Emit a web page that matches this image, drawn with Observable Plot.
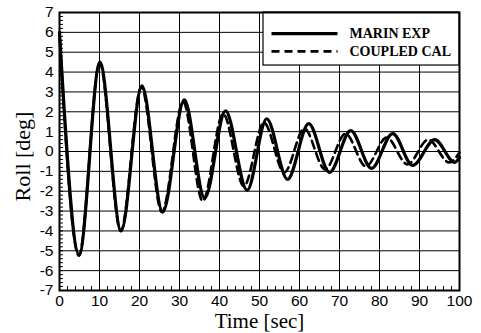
<!DOCTYPE html>
<html><head><meta charset="utf-8">
<script src="https://cdn.jsdelivr.net/npm/d3@7"></script>
<script src="https://cdn.jsdelivr.net/npm/@observablehq/plot@0.6"></script>
<style>
html,body{margin:0;padding:0;background:#fff;}
#chart svg{display:block;}
</style>
</head><body><div id="chart"></div>
<script>
// MARIN EXP (solid) – extrema
const expTime = [0, 4.9, 10.1, 15.4, 20.6, 25.8, 31.2, 36.3, 41.5, 46.9, 51.8, 57.0, 62.3, 67.5, 72.8, 78.0, 83.3, 88.3, 93.8, 98.8, 100];
const expRoll = [6.0, -5.2, 4.5, -4.0, 3.3, -3.05, 2.6, -2.35, 2.05, -1.95, 1.65, -1.4, 1.4, -1.05, 1.05, -0.85, 0.9, -0.7, 0.6, -0.55, -0.3];
// COUPLED CAL (dashed)
const calTime = [0, 4.85, 10.05, 15.3, 20.45, 25.6, 30.9, 35.8, 40.9, 46.1, 51.1, 56.2, 61.2, 66.4, 71.5, 76.6, 81.8, 87.0, 92.2, 97.4, 100];
const calRoll = [5.9, -5.25, 4.45, -4.0, 3.25, -3.05, 2.5, -2.5, 1.9, -1.75, 1.45, -1.05, 1.15, -0.9, 0.9, -0.75, 0.7, -0.65, 0.6, -0.55, -0.05];

const seriesNames = ["MARIN EXP", "COUPLED CAL"];
const xTicks = [0, 10, 20, 30, 40, 50, 60, 70, 80, 90, 100];
const yTicks = [-7, -6, -5, -4, -3, -2, -1, 0, 1, 2, 3, 4, 5, 6, 7];
const xMinor = d3.range(0, 100.001, 2);
const yMinor = d3.range(-7, 7.001, 0.2);

const expData = expTime.map((t, i) => ({t, v: expRoll[i]}));
const calData = calTime.map((t, i) => ({t, v: calRoll[i]}));

// legend layout (in data space)
const lg = {x1: 51, x2: 100, y1: 7, y2: 4.33, lx1: 53, lx2: 69.5, tx: 72.5, ys: [5.94, 5.04]};
const legendRows = seriesNames.map((name, i) => ({name, y: lg.ys[i]}));

const serif = "'Liberation Serif','Times New Roman',serif";
const sans = "'Liberation Sans',Arial,sans-serif";

const chart = Plot.plot({
  width: 481, height: 333,
  marginLeft: 59, marginRight: 22, marginTop: 12, marginBottom: 43,
  style: {fontFamily: sans, fontSize: "15px", color: "#000", background: "#fff"},
  x: {domain: [0, 100]},
  y: {domain: [-7, 7]},
  marks: [
    Plot.ruleX(xTicks, {x: d => d, stroke: "#000", strokeWidth: 1}),
    Plot.ruleY(yTicks, {y: d => d, stroke: "#000", strokeWidth: 1}),
    Plot.axisX(xMinor, {tickSize: -4, text: null, strokeWidth: 1}),
    Plot.axisY(yMinor, {tickSize: -4, text: null, strokeWidth: 1}),
    Plot.axisX(xTicks, {tickSize: 0, tickPadding: 4, tickFormat: d => String(d), label: null, fontSize: 15.5}),
    Plot.axisY(yTicks, {tickSize: 0, tickPadding: 6, tickFormat: d => String(d), label: null, fontSize: 15.5}),
    Plot.line(calData, {x: "t", y: "v", curve: "monotone-x", stroke: "#000", strokeWidth: 2.6, strokeDasharray: "8,5"}),
    Plot.line(expData, {x: "t", y: "v", curve: "monotone-x", stroke: "#000", strokeWidth: 3.2}),
    // legend
    Plot.rect([lg], {x1: "x1", x2: "x2", y1: "y1", y2: "y2", fill: "#fff", stroke: "#000", strokeWidth: 1.2}),
    Plot.link([legendRows[0]], {x1: () => lg.lx1, x2: () => lg.lx2, y1: "y", y2: "y", stroke: "#000", strokeWidth: 3.2}),
    Plot.link([legendRows[1]], {x1: () => lg.lx1, x2: () => lg.lx2, y1: "y", y2: "y", stroke: "#000", strokeWidth: 2.6, strokeDasharray: "8,5"}),
    Plot.text(legendRows, {x: () => lg.tx, y: "y", text: "name", textAnchor: "start", fontFamily: serif, fontWeight: "bold", fontSize: 14, fill: "#000"}),
    Plot.frame({stroke: "#000", strokeWidth: 2}),
    // axis titles
    Plot.text(["Time [sec]"], {frameAnchor: "bottom", dy: 37, text: d => d, fontFamily: serif, fontSize: 21, fill: "#000"}),
    Plot.text(["Roll [deg]"], {frameAnchor: "left", textAnchor: "middle", dx: -37, dy: 5, rotate: -90, text: d => d, fontFamily: serif, fontSize: 22, fill: "#000"})
  ]
});
document.getElementById("chart").appendChild(chart);
</script>
</body></html>
